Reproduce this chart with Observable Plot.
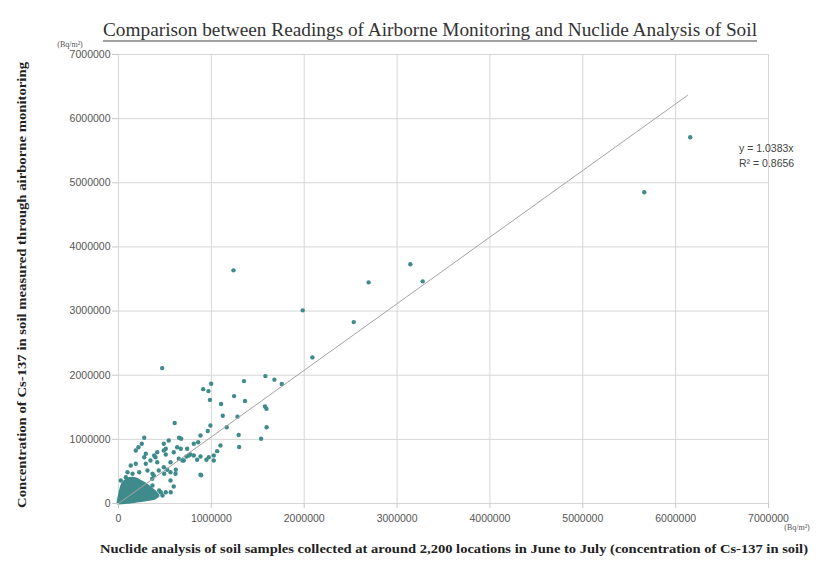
<!DOCTYPE html>
<html><head><meta charset="utf-8">
<script src="https://cdn.jsdelivr.net/npm/d3@7"></script>
<script src="https://cdn.jsdelivr.net/npm/@observablehq/plot@0.6"></script>
<style>
body{margin:0;background:#fff;}
#wrap{position:relative;width:836px;height:563px;overflow:hidden;}
#wrap svg{position:absolute;left:0;top:0;}
</style></head><body><div id="wrap"></div>
<script>
// Axis ticks (Bq/m²)
const ticks = [0, 1000000, 2000000, 3000000, 4000000, 5000000, 6000000, 7000000];

// Scattered samples: soil nuclide analysis (x) vs airborne monitoring (y), Bq/m²
const soilBq = [6157000,5662000,1238000,3143000,3276000,2694000,1984000,2533000,2088000,1758000,
  470000,1582000,1679000,1351000,998000,912000,969000,985000,1105000,1245000,
  1362000,1577000,1593000,1123000,1281000,605000,1165000,961000,1595000,1294000,
  1536000,1299000,890000,990000,883000,541000,675000,811000,858000,1098000,
  488000,632000,739000,1062000,488000,417000,595000,775000,757000,732000,
  811000,883000,972000,1026000,649000,703000,847000,947000,1026000,398000,
  344000,417000,560000,488000,434000,524000,560000,614000,380000,363000,
  883000,560000,595000,277000,251000,653000,509000,671000,215000,186000,
  294000,277000,384000,509000,689000,132000,186000,294000,617000,97000,
  223000,312000,366000,492000,509000,455000,563000,79000,151000,25000,
  366000,438000,474000];
const airborneBq = [5710000,4852000,3635000,3729000,3463000,3448000,3011000,2828000,2278000,1864000,
  2111000,1986000,1931000,1908000,1867000,1783000,1752000,1615000,1552000,1674000,
  1599000,1513000,1477000,1368000,1354000,1256000,1189000,1131000,1189000,1069000,
  1009000,881000,441000,1217000,1061000,983000,1009000,931000,956000,905000,
  931000,878000,853000,816000,827000,800000,800000,764000,749000,733000,
  749000,733000,722000,749000,697000,671000,682000,682000,671000,722000,
  671000,644000,644000,566000,515000,526000,488000,463000,437000,385000,
  448000,359000,265000,1025000,931000,1025000,853000,853000,878000,827000,
  775000,722000,749000,764000,671000,593000,619000,619000,526000,488000,
  488000,515000,463000,463000,176000,176000,176000,410000,463000,359000,
  281000,203000,125000];

// Outline of the dense cluster of ~2,200 overlapping samples near the origin
const clusterX    = [0, 20000, 50000, 100000, 150000, 200000, 250000, 300000, 350000, 400000, 430000];
const clusterLow  = [0, 0, 5000, 10000, 20000, 30000, 40000, 50000, 60000, 80000, 110000];
const clusterHigh = [0, 150000, 300000, 370000, 385000, 370000, 330000, 290000, 230000, 170000, 120000];

// Linear trend line y = 1.0383x
const trendX = [0, 6128000];
const trendY = [0, 6363000];

const teal = "#3f8b8b";
const points = soilBq.map((x, i) => ({x, y: airborneBq[i]}));
const cluster = clusterX.map((x, i) => ({x, y1: clusterLow[i], y2: clusterHigh[i]}));
const trend = trendX.map((x, i) => ({x, y: trendY[i]}));

const chart = Plot.plot({
  width: 836, height: 563,
  marginLeft: 118, marginRight: 68, marginTop: 54, marginBottom: 60,
  x: {domain: [0, 7000000]},
  y: {domain: [0, 7000000]},
  style: {fontFamily: "'Liberation Sans', Arial, sans-serif", fontSize: "10.5px", color: "#555", background: "transparent"},
  marks: [
    Plot.gridX(ticks, {stroke: "#d6d6d6", strokeOpacity: 1}),
    Plot.gridY(ticks, {stroke: "#d6d6d6", strokeOpacity: 1}),
    Plot.areaY(cluster, {x: "x", y1: "y1", y2: "y2", fill: teal, stroke: teal, strokeWidth: 3, curve: "catmull-rom"}),
    Plot.dot(points, {x: "x", y: "y", r: 2.2, fill: teal}),
    Plot.line(trend, {x: "x", y: "y", stroke: "#a3a3a3", strokeWidth: 1}),
    Plot.axisX(ticks, {tickFormat: d3.format("d"), tickSize: 5, tickPadding: 6, label: null, stroke: "#c8c8c8", fill: "#555"}),
    Plot.axisY(ticks, {tickFormat: d3.format("d"), tickSize: 6, tickPadding: 2, label: null, stroke: "#c8c8c8", fill: "#555"})
  ]
});
const wrap = document.getElementById("wrap");
wrap.appendChild(chart);

// Text overlay: title, axis titles, units, trend annotation
const NS = "http://www.w3.org/2000/svg";
const ov = document.createElementNS(NS, "svg");
ov.setAttribute("width", 836); ov.setAttribute("height", 563);
function t(str, attrs) {
  const e = document.createElementNS(NS, "text");
  for (const k in attrs) e.setAttribute(k, attrs[k]);
  e.textContent = str; ov.appendChild(e); return e;
}
const serif = "'Liberation Serif', 'Times New Roman', serif";
t("Comparison between Readings of Airborne Monitoring and Nuclide Analysis of Soil",
  {x: 430, y: 36, "text-anchor": "middle", "font-family": serif, "font-size": 19, fill: "#333", textLength: 654, lengthAdjust: "spacingAndGlyphs"});
const ul = document.createElementNS(NS, "line");
ul.setAttribute("x1", 103); ul.setAttribute("x2", 757); ul.setAttribute("y1", 41); ul.setAttribute("y2", 41);
ul.setAttribute("stroke", "#444"); ul.setAttribute("stroke-width", 1.2); ov.appendChild(ul);
t("(Bq/m²)", {x: 70, y: 47, "text-anchor": "middle", "font-family": serif, "font-size": 8, fill: "#555"});
t("(Bq/m²)", {x: 797, y: 530, "text-anchor": "middle", "font-family": serif, "font-size": 8, fill: "#555"});
t("Concentration of Cs-137 in soil measured through airborne monitoring",
  {transform: "translate(26,285) rotate(-90)", "text-anchor": "middle", "font-family": serif, "font-weight": "bold", "font-size": 13.5, fill: "#222", textLength: 446, lengthAdjust: "spacingAndGlyphs"});
t("Nuclide analysis of soil samples collected at around 2,200 locations in June to July (concentration of Cs-137 in soil)",
  {x: 454, y: 553, "text-anchor": "middle", "font-family": serif, "font-weight": "bold", "font-size": 13, fill: "#222", textLength: 708, lengthAdjust: "spacingAndGlyphs"});
t("y = 1.0383x", {x: 739, y: 152, "font-family": "'Liberation Sans', Arial, sans-serif", "font-size": 10.5, fill: "#444"});
t("R² = 0.8656", {x: 739, y: 167, "font-family": "'Liberation Sans', Arial, sans-serif", "font-size": 10.5, fill: "#444"});
wrap.appendChild(ov);
</script></body></html>
